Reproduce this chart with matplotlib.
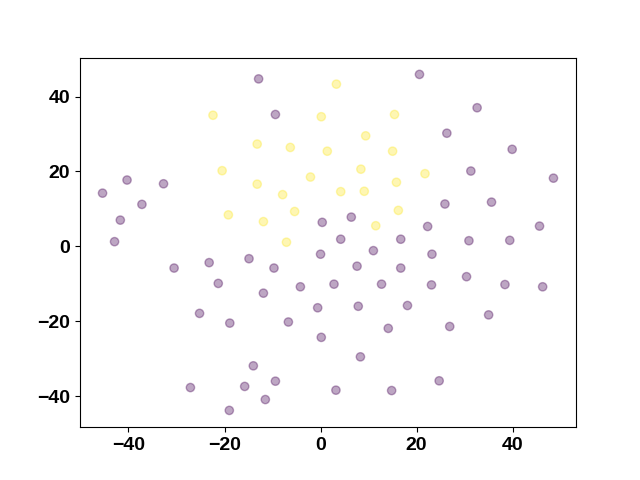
import numpy as np
import matplotlib
matplotlib.use('Agg')
import matplotlib.pyplot as plt

# cluster 0 (purple)
x0 = [-12.9, 20.6, 32.6, -9.4, 26.3, 39.9, -40.3, -32.7, -45.4, 31.3, 48.5,
      -37.2, 25.9, 35.6, -41.7, 0.35, 6.4, 22.3, 45.6, -42.9, 4.2, 16.7, 30.9,
      39.4, 0.0, 11.0, 23.2, -30.5, -23.2, -14.9, -9.7, 7.6, 16.7, -21.3, 2.8,
      12.7, 23.1, 30.4, 38.4, 46.25, -11.9, -4.2, -25.2, -18.9, -6.7, -0.6,
      7.85, 18.1, 35.0, 14.1, 26.9, 0.15, 8.3, -14.0, 24.7, -27.1, -15.8, -9.4,
      3.2, 14.8, -11.5, -19.0]
y0 = [44.7, 45.9, 37.0, 35.2, 30.2, 25.9, 17.7, 16.7, 14.2, 20.1, 18.2,
      11.2, 11.3, 11.8, 7.0, 6.4, 7.8, 5.3, 5.4, 1.25, 1.9, 1.9, 1.5,
      1.6, -2.1, -1.15, -2.1, -5.8, -4.35, -3.3, -5.8, -5.3, -5.8, -9.9, -10.1,
      -10.1, -10.3, -8.1, -10.2, -10.8, -12.5, -10.8, -17.9, -20.5, -20.2, -16.4,
      -16.0, -15.8, -18.3, -21.9, -21.4, -24.3, -29.5, -31.9, -35.9, -37.7, -37.4, -36.0,
      -38.4, -38.5, -40.9, -43.8]

# cluster 1 (yellow)
x1 = [-22.4, 3.3, 0.15, 15.4, -13.2, -6.3, 1.4, 9.4, 15.0, -20.5, -2.1, 8.4,
      21.75, -13.2, -7.9, 15.8, -19.2, -5.4, 4.2, 9.1, 16.2, -11.9, 11.5, -7.1]
y1 = [35.0, 43.3, 34.6, 35.2, 27.3, 26.4, 25.4, 29.5, 25.4, 20.2, 18.5, 20.6,
      19.4, 16.6, 13.8, 17.1, 8.4, 9.3, 14.6, 14.7, 9.6, 6.6, 5.5, 1.1]

x = np.array(x0 + x1)
y = np.array(y0 + y1)
labels = np.array([0] * len(x0) + [1] * len(x1))

plt.rcParams['font.family'] = 'Liberation Sans'
plt.rcParams['font.weight'] = 'bold'
plt.rcParams['font.size'] = 14

fig, ax = plt.subplots(figsize=(6.4, 4.8), dpi=100)
ax.scatter(x, y, c=labels, cmap='viridis', alpha=0.35)

plt.savefig('out.png')
